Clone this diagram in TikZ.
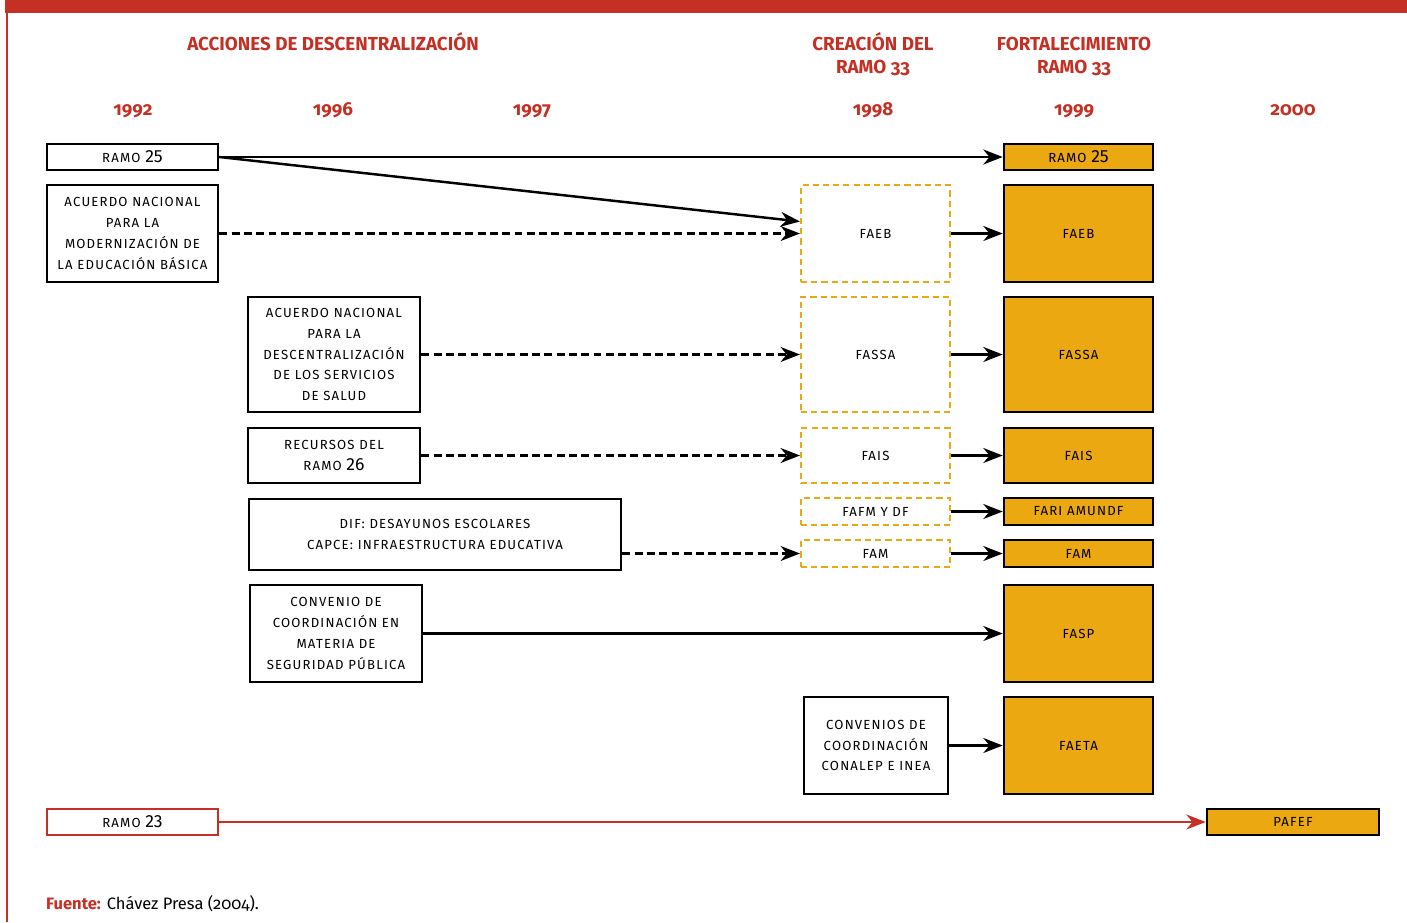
\documentclass[tikz,border=0pt]{standalone}
\usepackage{fontspec}
\setmainfont{Fira Sans}
\newfontfamily\titulofont[Numbers=OldStyle]{Fira Sans}
\newfontfamily\cajafont[LetterSpace=9]{Fira Sans}
\newfontfamily\cifrafont{Fira Sans}
\usetikzlibrary{arrows.meta}
\definecolor{rojo}{RGB}{196,48,36}
\definecolor{naranja}{RGB}{236,168,16}
\newcommand\cifra[1]{{\cifrafont\fontsize{10}{11.8}\selectfont #1}}
\tikzset{
  caja/.style = {draw, line width=1.5pt, align=center, inner sep=0pt,
    font=\cajafont\fontsize{7.5}{11.8}\selectfont},
  fondo/.style = {caja, fill=naranja},
  nuevo/.style = {caja, draw=naranja, line width=1.2pt, dash pattern=on 3.5pt off 2.3pt},
  flecha/.style = {-{Stealth[length=11pt,width=8.5pt,inset=3.5pt]}, line width=1.4pt},
  punteada/.style = {flecha, dash pattern=on 4.5pt off 2.5pt},
  titulo/.style = {text=rojo, align=center, font=\titulofont\bfseries\fontsize{10.7}{13}\selectfont}
}

\begin{document}
\begin{tikzpicture}
  \useasboundingbox (0,0) rectangle (28.14,-18.44);
  % frame
  \fill[rojo] (0.1,0) rectangle (28.14,-0.25);
  \fill[rojo] (0.12,0) rectangle (0.17,-18.44);
  % headings
  \node[titulo,anchor=base] (acciones) at (6.66,-1.0) {ACCIONES DE DESCENTRALIZACIÓN};
  \node[titulo,anchor=north] (creacion) at (17.46,-0.52) {CREACIÓN DEL\\RAMO 33};
  \node[titulo,anchor=north] (fortal) at (21.48,-0.62) {FORTALECIMIENTO\\RAMO 33};
  \foreach \x/\a in {2.66/1992,6.66/1996,10.64/1997,17.46/1998,21.48/1999,25.86/2000}
    { \node[titulo,anchor=base] (a\a) at (\x,-2.3) {\a}; };
  % actions
  \node[caja,minimum width=3.42cm,minimum height=0.52cm] (r25) at (2.65,-3.14) {RAMO \cifra{25}};
  \node[caja,minimum width=3.42cm,minimum height=1.94cm] (anmeb) at (2.65,-4.67)
    {ACUERDO NACIONAL\\PARA LA\\MODERNIZACIÓN DE\\LA EDUCACIÓN BÁSICA};
  \node[caja,minimum width=3.44cm,minimum height=2.30cm] (salud) at (6.68,-7.09)
    {ACUERDO NACIONAL\\PARA LA\\DESCENTRALIZACIÓN\\DE LOS SERVICIOS\\DE SALUD};
  \node[caja,minimum width=3.44cm,minimum height=1.10cm] (r26) at (6.68,-9.11) {RECURSOS DEL\\RAMO \cifra{26}};
  \node[caja,minimum width=7.44cm,minimum height=1.42cm] (dif) at (8.70,-10.69)
    {DIF: DESAYUNOS ESCOLARES\\CAPCE: INFRAESTRUCTURA EDUCATIVA};
  \node[caja,minimum width=3.44cm,minimum height=1.94cm] (seg) at (6.72,-12.67)
    {CONVENIO DE\\COORDINACIÓN EN\\MATERIA DE\\SEGURIDAD PÚBLICA};
  \node[caja,minimum width=2.88cm,minimum height=1.94cm] (conalep) at (17.52,-14.91)
    {CONVENIOS DE\\COORDINACIÓN\\CONALEP E INEA};
  \node[caja,draw=rojo,minimum width=3.42cm,minimum height=0.52cm] (r23) at (2.65,-16.44) {RAMO \cifra{23}};
  % ramo 33 (1998)
  \node[nuevo,minimum width=2.98cm,minimum height=1.94cm] (dfaeb) at (17.51,-4.67) {FAEB};
  \node[nuevo,minimum width=2.98cm,minimum height=2.30cm] (dfassa) at (17.51,-7.09) {FASSA};
  \node[nuevo,minimum width=2.98cm,minimum height=1.10cm] (dfais) at (17.51,-9.11) {FAIS};
  \node[nuevo,minimum width=2.98cm,minimum height=0.54cm] (dfafm) at (17.51,-10.23) {FAFM Y DF};
  \node[nuevo,minimum width=2.98cm,minimum height=0.54cm] (dfam) at (17.51,-11.07) {FAM};
  % ramo 33 (1999)
  \node[fondo,minimum width=2.98cm,minimum height=0.52cm] (or25) at (21.57,-3.14) {RAMO \cifra{25}};
  \node[fondo,minimum width=2.98cm,minimum height=1.94cm] (ofaeb) at (21.57,-4.67) {FAEB};
  \node[fondo,minimum width=2.98cm,minimum height=2.30cm] (ofassa) at (21.57,-7.09) {FASSA};
  \node[fondo,minimum width=2.98cm,minimum height=1.10cm] (ofais) at (21.57,-9.11) {FAIS};
  \node[fondo,minimum width=2.98cm,minimum height=0.54cm] (ofari) at (21.57,-10.23) {FARI AMUNDF};
  \node[fondo,minimum width=2.98cm,minimum height=0.54cm] (ofam) at (21.57,-11.07) {FAM};
  \node[fondo,minimum width=2.98cm,minimum height=1.94cm] (ofasp) at (21.57,-12.67) {FASP};
  \node[fondo,minimum width=2.98cm,minimum height=1.94cm] (ofaeta) at (21.57,-14.91) {FAETA};
  \node[fondo,minimum width=3.44cm,minimum height=0.52cm] (pafef) at (25.86,-16.44) {PAFEF};
  % arrows
  \draw[flecha] (r25.east) -- (or25.west);
  \draw[flecha] (r25.east) -- ([yshift=0.24cm]dfaeb.west);
  \draw[punteada] (anmeb.east) -- (dfaeb.west);
  \draw[punteada] (salud.east) -- (dfassa.west);
  \draw[punteada] (r26.east) -- (dfais.west);
  \draw[punteada] (dif.east |- dfam.west) -- (dfam.west);
  \draw[flecha] (seg.east) -- (ofasp.west);
  \draw[flecha] (conalep.east) -- (ofaeta.west);
  \draw[flecha,rojo] (r23.east) -- (pafef.west);
  \foreach \n in {faeb,fassa,fais,fam} { \draw[flecha] (d\n.east) -- (o\n.west); };
  \draw[flecha] (dfafm.east) -- (ofari.west);
  % source
  \node[anchor=base west,font=\titulofont\fontsize{9.4}{12}\selectfont] (fuente) at (0.8,-18.18)
    {\textcolor{rojo}{\bfseries Fuente:} Chávez Presa (2004).};
\end{tikzpicture}
\end{document}
